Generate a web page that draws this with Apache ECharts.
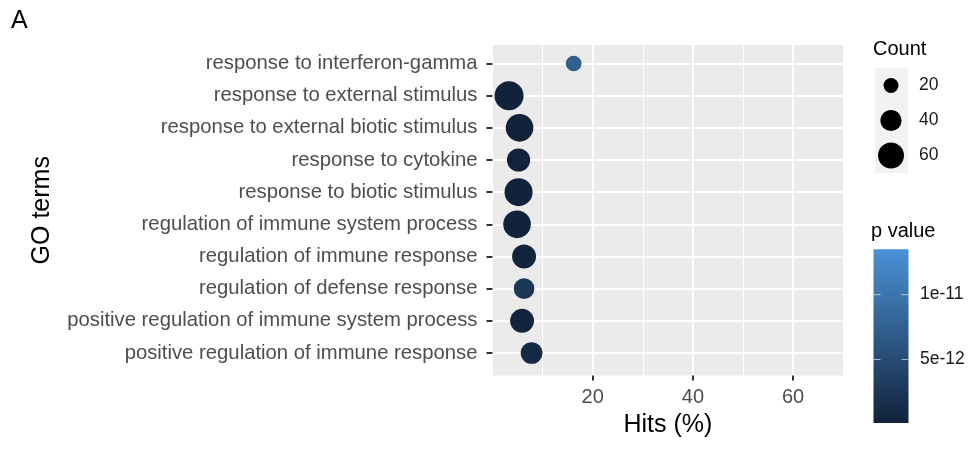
<!DOCTYPE html>
<html>
<head>
<meta charset="utf-8">
<script src="https://cdn.jsdelivr.net/npm/echarts@6/dist/echarts.min.js"></script>
<style>
  html, body { margin: 0; padding: 0; background: #ffffff; }
  #chart { width: 970px; height: 457px; }
</style>
</head>
<body>
<div id="chart"></div>
<script>
// GO term enrichment: hits (%) per term, dot size = gene count, colour = p value
const terms = [
  'response to interferon-gamma',
  'response to external stimulus',
  'response to external biotic stimulus',
  'response to cytokine',
  'response to biotic stimulus',
  'regulation of immune system process',
  'regulation of immune response',
  'regulation of defense response',
  'positive regulation of immune system process',
  'positive regulation of immune response'
];
const hits    = [16.2, 3.3, 5.4, 5.2, 5.2, 4.9, 6.3, 6.3, 5.9, 7.8];
const counts  = [22, 75, 68, 48, 70, 68, 51, 38, 51, 42];
const pValues = [7.5e-12, 1.5e-13, 2e-13, 2.5e-13, 1.5e-13, 2e-13, 4e-13, 2.5e-12, 3e-13, 1e-12];

const xTicks = [20, 40, 60];
const countBreaks = [20, 40, 60];
const pBreaks = [1e-11, 5e-12];
const pBreakLabels = ['1e-11', '5e-12'];
const pLimits = [1e-13, 1.35e-11];
const gradientColors = ['#11223A', '#4B92D6'];

const FONT = "'Liberation Sans', Arial, Helvetica, sans-serif";

// dot diameter scales with the square root of the count (area ∝ count)
function sizeFor(count) { return 3.35 * Math.sqrt(count); }

// panel geometry
const panel = { left: 492.5, top: 45, width: 350.7, height: 330.5 };
const rows = { top: 63.5, height: 289.5 };

// legend geometry
const countKey = { x: 875, y: 68, w: 33, h: 105, cx: 891, labelX: 919 };
const bar = { x: 873.5, top: 249.3, bottom: 423, w: 35, labelX: 920 };

const data = terms.map((t, i) => [hits[i], t, counts[i], pValues[i]]);

const graphics = [];

// panel tag
graphics.push({
  type: 'text', left: 11, top: 9,
  style: { text: 'A', font: '25px ' + FONT, fill: '#000' }
});
// axis titles
graphics.push({
  type: 'text', x: panel.left + panel.width / 2, y: 425,
  style: { text: 'Hits (%)', font: '25px ' + FONT, fill: '#000',
           textAlign: 'center', textVerticalAlign: 'middle' }
});
graphics.push({
  type: 'text', x: 42, y: panel.top + panel.height / 2, rotation: Math.PI / 2,
  style: { text: 'GO terms', font: '25px ' + FONT, fill: '#000',
           textAlign: 'center', textVerticalAlign: 'middle' }
});

// Count legend
graphics.push({
  type: 'text', x: 873, y: 49,
  style: { text: 'Count', font: '20px ' + FONT, fill: '#000', textVerticalAlign: 'middle' }
});
graphics.push({
  type: 'rect', shape: { x: countKey.x, y: countKey.y, width: countKey.w, height: countKey.h },
  style: { fill: '#F2F2F2' }
});
countBreaks.forEach((c, i) => {
  const cy = countKey.y + countKey.h * (i + 0.5) / countBreaks.length;
  graphics.push({
    type: 'circle', shape: { cx: countKey.cx, cy: cy, r: sizeFor(c) / 2 },
    style: { fill: '#000' }
  });
  graphics.push({
    type: 'text', x: countKey.labelX, y: cy,
    style: { text: String(c), font: '17.5px ' + FONT, fill: '#1a1a1a', textVerticalAlign: 'middle' }
  });
});

// p value colour bar
graphics.push({
  type: 'text', x: 871, y: 231,
  style: { text: 'p value', font: '20px ' + FONT, fill: '#000', textVerticalAlign: 'middle' }
});
graphics.push({
  type: 'rect', shape: { x: bar.x, y: bar.top, width: bar.w, height: bar.bottom - bar.top },
  style: {
    fill: new echarts.graphic.LinearGradient(0, 1, 0, 0, [
      { offset: 0, color: gradientColors[0] },
      { offset: 1, color: gradientColors[1] }
    ])
  }
});
pBreaks.forEach((p, i) => {
  const y = bar.bottom - (p - pLimits[0]) / (pLimits[1] - pLimits[0]) * (bar.bottom - bar.top);
  const tick = bar.w / 5;
  graphics.push({ type: 'line', shape: { x1: bar.x, y1: y, x2: bar.x + tick, y2: y },
                  style: { stroke: 'rgba(255,255,255,0.6)', lineWidth: 1 } });
  graphics.push({ type: 'line', shape: { x1: bar.x + bar.w - tick, y1: y, x2: bar.x + bar.w, y2: y },
                  style: { stroke: 'rgba(255,255,255,0.6)', lineWidth: 1 } });
  graphics.push({
    type: 'text', x: bar.labelX, y: y,
    style: { text: pBreakLabels[i], font: '17.5px ' + FONT, fill: '#1a1a1a', textVerticalAlign: 'middle' }
  });
});

const chart = echarts.init(document.getElementById('chart'), null, { renderer: 'canvas' });

chart.setOption({
  animation: false,
  backgroundColor: '#ffffff',
  grid: [
    { left: panel.left, top: panel.top, width: panel.width, height: panel.height,
      show: true, backgroundColor: '#EBEBEB', borderWidth: 0 },
    { left: panel.left, top: rows.top, width: panel.width, height: rows.height,
      show: false }
  ],
  xAxis: [
    { // minor vertical grid lines
      gridIndex: 0, type: 'value', min: 0, max: 70, interval: 10,
      axisLine: { show: false }, axisTick: { show: false }, axisLabel: { show: false },
      splitLine: { show: true, lineStyle: { color: '#FFFFFF', width: 1 } }
    },
    { // major grid lines, ticks and labels
      gridIndex: 0, type: 'value', min: 0, max: 70, interval: 20, position: 'bottom',
      axisLine: { show: false },
      axisTick: { show: true, length: 5, customValues: xTicks,
                  lineStyle: { color: '#333333', width: 2 } },
      axisLabel: { show: true, customValues: xTicks, margin: 12, fontSize: 20,
                   fontFamily: FONT, color: '#4D4D4D',
                   formatter: v => (xTicks.indexOf(v) >= 0 ? String(v) : '') },
      splitLine: { show: true, lineStyle: { color: '#FFFFFF', width: 2 } }
    },
    { // data axis for the dots
      gridIndex: 1, type: 'value', min: 0, max: 70, show: false
    }
  ],
  yAxis: [
    { gridIndex: 0, type: 'value', show: false },
    {
      gridIndex: 1, type: 'category', data: terms, inverse: true, boundaryGap: false,
      axisLine: { show: false },
      axisTick: { show: true, length: 6, interval: 0, lineStyle: { color: '#333333', width: 2 } },
      axisLabel: { show: true, interval: 0, margin: 15, fontSize: 20.3, fontFamily: FONT, color: '#4D4D4D' },
      splitLine: { show: true, interval: 0, lineStyle: { color: '#FFFFFF', width: 2 } }
    }
  ],
  visualMap: {
    show: false, type: 'continuous', seriesIndex: 0, dimension: 3,
    min: pLimits[0], max: pLimits[1],
    inRange: { color: gradientColors }
  },
  series: [{
    type: 'scatter',
    xAxisIndex: 2, yAxisIndex: 1,
    clip: false,
    data: data,
    symbol: 'circle',
    symbolSize: v => sizeFor(v[2]),
    itemStyle: { opacity: 1 },
    z: 5
  }],
  graphic: graphics
});
</script>
</body>
</html>
